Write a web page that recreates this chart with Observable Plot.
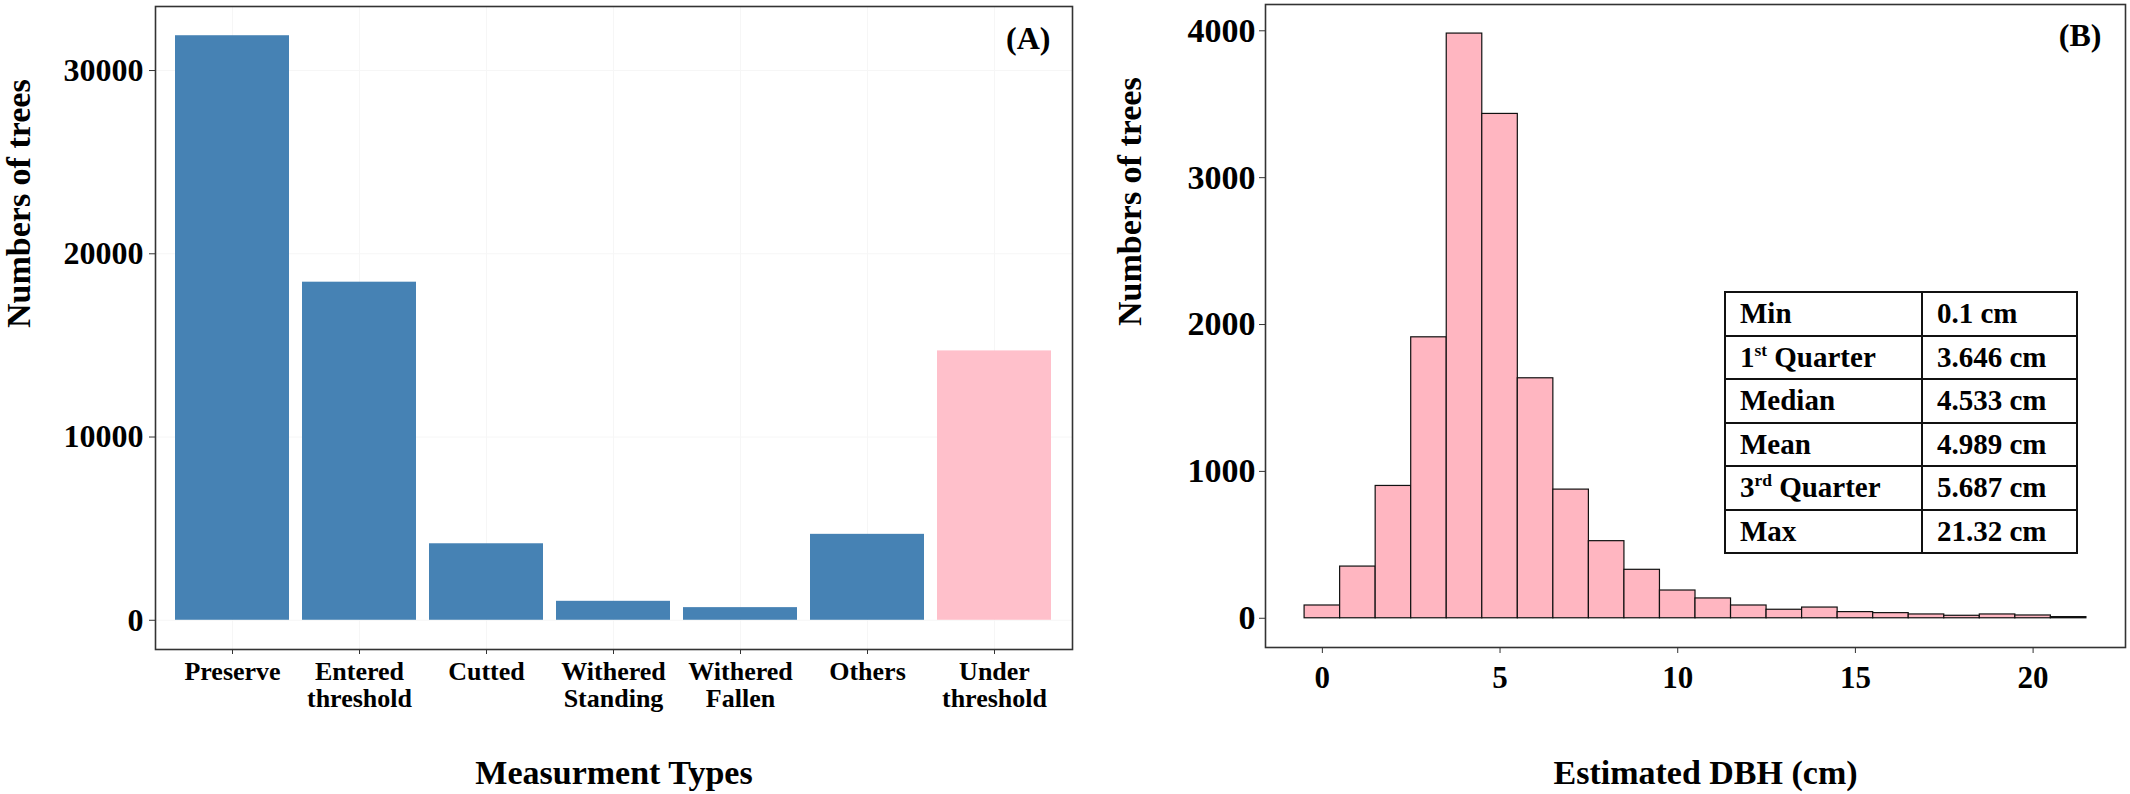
<!DOCTYPE html>
<html>
<head>
<meta charset="utf-8">
<script src="https://cdn.jsdelivr.net/npm/d3@7"></script>
<script src="https://cdn.jsdelivr.net/npm/@observablehq/plot@0.6"></script>
<style>
  body { margin: 0; background: #fff; }
  #wrap { position: relative; width: 2130px; height: 794px; display: flex; background: #fff; }
  #wrap svg { display: block; }
  #stats {
    position: absolute; left: 1724px; top: 291px;
    border-collapse: collapse;
    font-family: "Liberation Serif", "Times New Roman", serif;
    font-weight: bold; font-size: 29px; color: #000; background: #fff;
  }
  #stats td {
    border: 2.5px solid #111; height: 41.5px; padding: 0 0 0 14px;
    vertical-align: middle; white-space: nowrap; line-height: 1;
  }
  #stats td.k { width: 181px; }
  #stats td.v { width: 139px; }
  #stats sup { font-size: 0.6em; vertical-align: 0.65em; line-height: 0; }
</style>
</head>
<body>
<div id="wrap"></div>
<script>
// ---------- Data ----------
const categories = ["Preserve", "Entered threshold", "Cutted", "Withered Standing", "Withered Fallen", "Others", "Under threshold"];
const treeCounts = [31900, 18450, 4175, 1035, 690, 4690, 14700];
const categoryFills = ["#4682B4", "#4682B4", "#4682B4", "#4682B4", "#4682B4", "#4682B4", "#FFC0CB"];
const countTicksA = [0, 10000, 20000, 30000];

const dbhBinCenters = [0, 1, 2, 3, 4, 5, 6, 7, 8, 9, 10, 11, 12, 13, 14, 15, 16, 17, 18, 19, 20, 21];
const dbhCounts = [87, 352, 901, 1913, 3981, 3434, 1634, 876, 525, 330, 189, 135, 87, 58, 73, 42, 35, 26, 17, 26, 19, 8];
const binWidth = 1;
const countTicksB = [0, 1000, 2000, 3000, 4000];
const dbhTicks = [0, 5, 10, 15, 20];

const statLabels = ["Min", "1<sup>st</sup> Quarter", "Median", "Mean", "3<sup>rd</sup> Quarter", "Max"];
const statValues = ["0.1 cm", "3.646 cm", "4.533 cm", "4.989 cm", "5.687 cm", "21.32 cm"];

// ---------- Helpers ----------
const font = '"Liberation Serif", "Times New Roman", serif';
const baseStyle = { fontFamily: font, fontWeight: "bold", color: "#000", background: "#fff", overflow: "visible" };

// ---------- Panel A ----------
const typeRows = categories.map((c, i) => ({ type: c, n: treeCounts[i] }));
const plotA = Plot.plot({
  width: 1090, height: 794,
  marginLeft: 155, marginRight: 18, marginTop: 6, marginBottom: 145,
  style: baseStyle,
  x: { type: "band", domain: categories, paddingInner: 0.1, paddingOuter: 0.16, label: null },
  y: { domain: [-1595, 33495], label: null },
  color: { domain: categories, range: categoryFills },
  marks: [
    Plot.gridY(countTicksA, { stroke: "#f6f6f6", strokeOpacity: 1 }),
    Plot.gridX({ stroke: "#f6f6f6", strokeOpacity: 1 }),
    Plot.barY(typeRows, { x: "type", y: "n", fill: "type" }),
    Plot.axisY({ ticks: countTicksA, tickFormat: "d", tickSize: 6, tickPadding: 6, fontSize: 32, label: null, stroke: "#333" }),
    Plot.axisX({ tickSize: 5, tickPadding: 7, fontSize: 26, label: null, stroke: "#333", lineHeight: 1.02,
                 tickFormat: d => d.replace(" ", "\n") }),
    Plot.frame({ stroke: "#333", strokeWidth: 1.6 }),
    Plot.text(["(A)"], { frameAnchor: "top-right", dx: -22, dy: 42, textAnchor: "end", lineAnchor: "bottom", fontSize: 32 }),
    Plot.text(["Numbers of trees"], { frameAnchor: "left", dx: -126, rotate: -90, lineAnchor: "bottom", fontSize: 34 }),
    Plot.text(["Measurment Types"], { frameAnchor: "bottom", dy: 134, lineAnchor: "bottom", fontSize: 34 })
  ]
});

// ---------- Panel B ----------
const histRows = dbhBinCenters.map((c, i) => ({ x1: c - binWidth / 2, x2: c + binWidth / 2, n: dbhCounts[i] }));
const plotB = Plot.plot({
  width: 1040, height: 794,
  marginLeft: 175, marginRight: 5, marginTop: 4, marginBottom: 147,
  style: baseStyle,
  x: { domain: [-1.6, 22.6], label: null },
  y: { domain: [-199, 4179], label: null },
  marks: [
    Plot.rectY(histRows, { x1: "x1", x2: "x2", y1: 0, y2: "n", fill: "#FFB6C1", stroke: "#111", strokeWidth: 1.2 }),
    Plot.axisY({ ticks: countTicksB, tickFormat: "d", tickSize: 6, tickPadding: 4, fontSize: 34, label: null, stroke: "#333" }),
    Plot.axisX({ ticks: dbhTicks, tickFormat: "d", tickSize: 6, tickPadding: 12, fontSize: 31, label: null, stroke: "#333" }),
    Plot.frame({ stroke: "#333", strokeWidth: 1.6 }),
    Plot.text(["(B)"], { frameAnchor: "top-right", dx: -24, dy: 41, textAnchor: "end", lineAnchor: "bottom", fontSize: 32 }),
    Plot.text(["Numbers of trees"], { frameAnchor: "left", dx: -125, rotate: -90, lineAnchor: "bottom", fontSize: 34 }),
    Plot.text(["Estimated DBH (cm)"], { frameAnchor: "bottom", dx: 10, dy: 136, lineAnchor: "bottom", fontSize: 34 })
  ]
});

const wrap = document.getElementById("wrap");
wrap.appendChild(plotA);
wrap.appendChild(plotB);

// ---------- Summary table ----------
const table = document.createElement("table");
table.id = "stats";
statLabels.forEach((lab, i) => {
  const tr = document.createElement("tr");
  const k = document.createElement("td"); k.className = "k"; k.innerHTML = lab;
  const v = document.createElement("td"); v.className = "v"; v.textContent = statValues[i];
  tr.appendChild(k); tr.appendChild(v);
  table.appendChild(tr);
});
wrap.appendChild(table);
</script>
</body>
</html>
